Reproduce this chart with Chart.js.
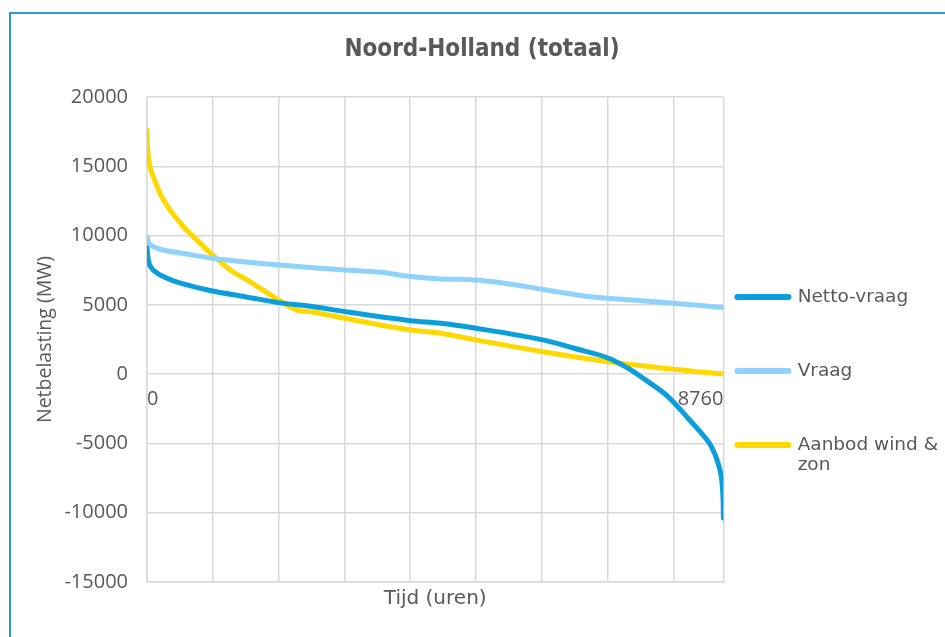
<!DOCTYPE html>
<html>
<head>
<meta charset="utf-8">
<script src="https://cdn.jsdelivr.net/npm/chart.js@4"></script>
<style>
  html, body { margin: 0; padding: 0; width: 945px; height: 637px; overflow: hidden; background: #fff; }
  #frame { position: absolute; left: 9px; top: 12px; width: 990px; height: 680px;
           border-left: 2px solid #2b9bd8; border-top: 2px solid #2b9bd8; }
  #wrap { position: absolute; left: 0; top: 0; width: 960px; height: 626px; }
</style>
</head>
<body>
<div id="frame"><div id="wrap"><canvas id="myChart"></canvas></div></div>
<script>
/* Noord-Holland: jaarduurkrommen (uren 0 - 8760) */
const xGridHours = [0, 1000, 2000, 3000, 4000, 5000, 6000, 7000, 8000, 8760];
const xEndLabels = [0, 8760];
const yTicks = [-15000, -10000, -5000, 0, 5000, 10000, 15000, 20000];

/* netto-vraag */
const nettoHours = [0, 20, 72, 148, 249, 401, 605, 995, 1493, 2000, 2534, 3006, 4007, 4464, 4997, 6013, 6490, 7013, 7308, 7613, 7918, 8222, 8425, 8578, 8679, 8740, 8750, 8757, 8760];
const nettoMW    = [9100, 8240, 7640, 7320, 7040, 6730, 6440, 6000, 5590, 5160, 4870, 4510, 3860, 3670, 3310, 2470, 1870, 1150, 430, -540, -1620, -3180, -4260, -5230, -6430, -7870, -8600, -9400, -10400];

/* vraag */
const vraagHours = [0, 20, 96, 249, 605, 995, 1493, 2011, 2483, 3001, 3550, 4007, 4464, 4997, 5378, 5789, 6002, 6291, 6642, 7008, 7510, 8013, 8425, 8760];
const vraagMW    = [9900, 9560, 9200, 8960, 8670, 8360, 8100, 7880, 7700, 7520, 7350, 7050, 6870, 6800, 6600, 6300, 6120, 5900, 5640, 5470, 5300, 5110, 4950, 4800];

/* aanbod wind & zon */
const aanbodHours = [0, 5, 20, 46, 96, 198, 350, 553, 757, 995, 1265, 1519, 2000, 2270, 2534, 3006, 4007, 4464, 4997, 6013, 7013, 8009, 8628, 8760];
const aanbodMW    = [17600, 16600, 15700, 14970, 14250, 13050, 11850, 10640, 9680, 8600, 7520, 6800, 5350, 4630, 4470, 4030, 3190, 2950, 2470, 1620, 900, 350, 60, 20];

const textColor = '#595959';
const gridColor = '#d9d9d9';

function toPoints(hours, values) {
  return hours.map((h, i) => ({x: h, y: values[i]}));
}

let ctx = document.getElementById('myChart').getContext('2d');
let myChart = new Chart(ctx, {
  type: 'line',
  data: {
    datasets: [{
      label: ['Netto-vraag', '', ''],
      data: toPoints(nettoHours, nettoMW),
      borderColor: '#0a9fdb',
      backgroundColor: '#0a9fdb'
    }, {
      label: ['Vraag', '', ''],
      data: toPoints(vraagHours, vraagMW),
      borderColor: '#8fd3fc',
      backgroundColor: '#8fd3fc'
    }, {
      label: ['Aanbod wind &', 'zon'],
      data: toPoints(aanbodHours, aanbodMW),
      borderColor: '#ffd800',
      backgroundColor: '#ffd800'
    }]
  },
  options: {
    responsive: true,
    maintainAspectRatio: false,
    animation: false,
    layout: { padding: { left: 4.9, right: 22.9, top: 0, bottom: 29 } },
    elements: {
      point: { radius: 0, hoverRadius: 0 },
      line: { borderWidth: 5, cubicInterpolationMode: 'monotone', borderCapStyle: 'round', fill: false }
    },
    plugins: {
      title: {
        display: true,
        text: 'Noord-Holland (totaal)',
        color: textColor,
        font: { family: 'DejaVu Sans Condensed', size: 24, weight: 'bold', lineHeight: 1.2 },
        padding: { top: 21.6, bottom: 32.6 }
      },
      legend: {
        position: 'right',
        align: 'start',
        // lege titel als ruimte boven de legenda
        title: { display: true, text: '', font: { size: 10, lineHeight: 1 }, padding: { top: 249.75, bottom: 0 } },
        labels: {
          usePointStyle: true,
          pointStyle: 'line',
          pointStyleWidth: 51,
          padding: 14,
          color: textColor,
          font: { family: 'DejaVu Sans', size: 18.5, lineHeight: 1.081 },
          generateLabels: (chart) => {
            let items = Chart.defaults.plugins.legend.labels.generateLabels(chart);
            items.forEach(item => {
              item.lineWidth = 6;
              item.lineCap = 'round';
            });
            return items;
          }
        }
      },
      tooltip: { enabled: false }
    },
    scales: {
      x: {
        type: 'linear',
        min: 0,
        max: 8760,
        afterBuildTicks: (scale) => { scale.ticks = xGridHours.map(v => ({value: v})); },
        ticks: { display: false },
        grid: { color: gridColor, lineWidth: 1.5, drawTicks: false },
        border: { color: gridColor, width: 1.5 },
        title: {
          display: true,
          text: 'Tijd (uren)',
          color: textColor,
          font: { family: 'DejaVu Sans', size: 20, lineHeight: 1.2 },
          padding: { top: 5, bottom: 0 }
        }
      },
      x2: {
        type: 'linear',
        position: { y: 0 },
        min: 0,
        max: 8760,
        afterBuildTicks: (scale) => { scale.ticks = xEndLabels.map(v => ({value: v})); },
        ticks: {
          align: 'inner',
          padding: 13,
          color: textColor,
          font: { family: 'Open Sans', size: 20 },
          callback: (v) => String(v)
        },
        grid: { display: false, drawTicks: false },
        border: { display: false }
      },
      y: {
        min: -15000,
        max: 20000,
        afterBuildTicks: (scale) => { scale.ticks = yTicks.map(v => ({value: v})); },
        afterFit: (scale) => { scale.width = 131.1; },
        ticks: {
          padding: 19,
          color: textColor,
          font: { family: 'Open Sans', size: 20 },
          callback: (v) => String(v)
        },
        grid: { color: gridColor, lineWidth: 1.5, drawTicks: false },
        border: { color: gridColor, width: 1.5 },
        title: {
          display: true,
          text: 'Netbelasting (MW)',
          color: textColor,
          font: { family: 'Open Sans', size: 19.5, lineHeight: 1.2 },
          padding: { top: 17.4, bottom: 0 }
        }
      }
    }
  }
});
</script>
</body>
</html>
